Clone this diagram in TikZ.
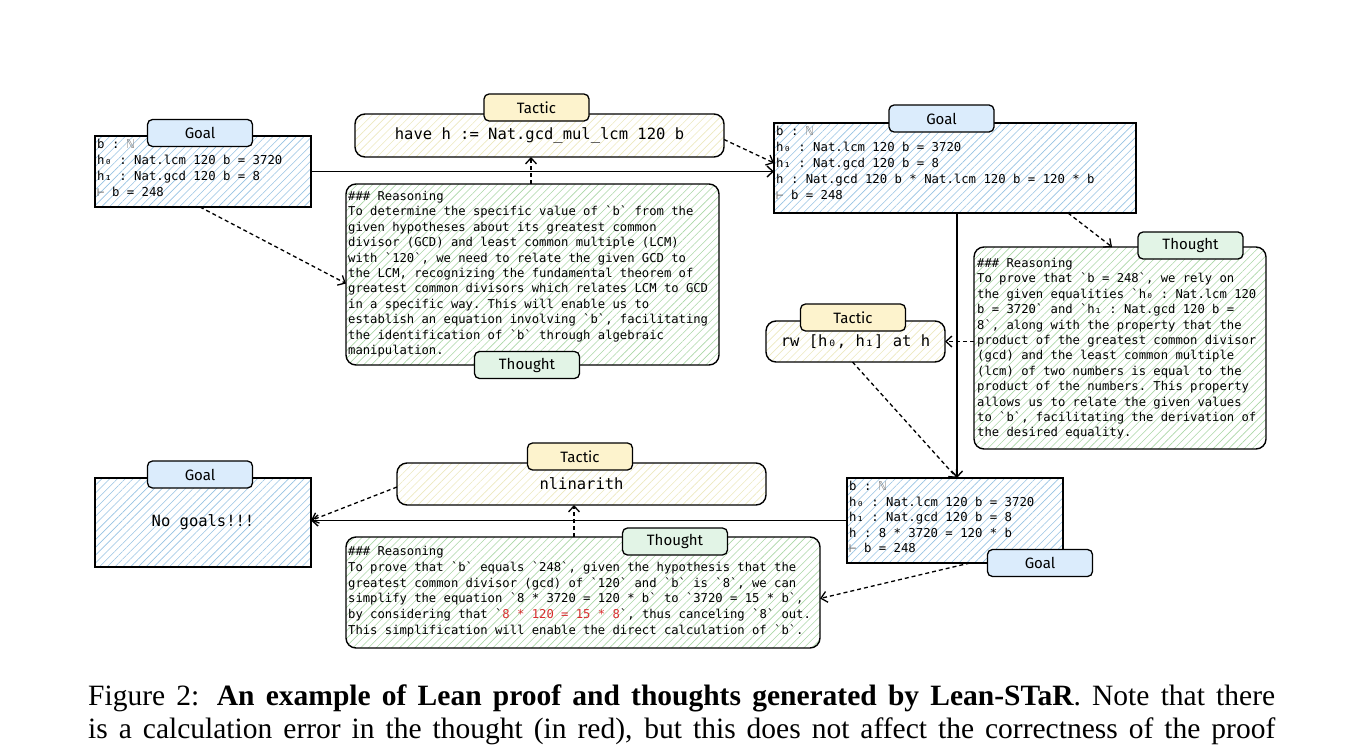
\documentclass[tikz,border=0pt]{standalone}
\usepackage{fontspec}
\setmonofont{DejaVu Sans Mono}
\newfontfamily\labelfont{Fira Sans}
\newfontfamily\capfont{Liberation Serif}
\usetikzlibrary{patterns.meta,arrows.meta}
\definecolor{hblue}{RGB}{150,194,226}
\definecolor{hgreen}{RGB}{170,214,166}
\definecolor{hyellow}{RGB}{236,232,190}
\definecolor{goalfill}{RGB}{219,236,252}
\definecolor{tacfill}{RGB}{253,243,205}
\definecolor{thfill}{RGB}{226,244,230}
\definecolor{errred}{RGB}{215,45,45}
\definecolor{symgray}{RGB}{120,120,120}
\begin{document}
\begin{tikzpicture}[x=1pt,y=-1pt,
  box/.style={draw=black, line width=1.4pt, inner sep=0pt, outer sep=0pt, anchor=north west},
  goalbox/.style={box, pattern={Lines[angle=45,distance=5.5pt,line width=0.6pt]}, pattern color=hblue},
  thbox/.style={box, rounded corners=10pt, pattern={Lines[angle=45,distance=5.5pt,line width=0.6pt]}, pattern color=hgreen},
  tacbox/.style={box, rounded corners=10pt, pattern={Lines[angle=45,distance=5.5pt,line width=0.6pt]}, pattern color=hyellow},
  lab/.style={draw=black, line width=1.3pt, rounded corners=5pt, inner sep=0pt, outer sep=0pt, minimum height=27pt, font=\labelfont\fontsize{15}{15}\selectfont},
  goallab/.style={lab, fill=goalfill, minimum width=105pt},
  taclab/.style={lab, fill=tacfill, minimum width=105pt},
  thlab/.style={lab, fill=thfill, minimum width=105pt},
  goaltext/.style={font=\ttfamily\fontsize{12.3}{16}\selectfont, align=left, inner sep=0pt, anchor=north west},
  thtext/.style={font=\ttfamily\fontsize{12.2}{15.4}\selectfont, align=left, inner sep=0pt, anchor=north west},
  tactext/.style={font=\ttfamily\fontsize{15.5}{18}\selectfont, inner sep=0pt},
  captext/.style={anchor=base west, inner sep=0pt, font=\capfont\fontsize{29.5}{33}\selectfont},
  solidarrow/.style={draw=black, line width=1.5pt, -{Straight Barb[length=6pt,width=11pt,line width=1.4pt]}},
  dasharrow/.style={draw=black, line width=1.3pt, dash pattern=on 4pt off 3pt, -{Straight Barb[length=6pt,width=11pt,line width=1.3pt]}}
]
\useasboundingbox (0,0) rectangle (1362,744);

% main boxes
\node[goalbox, minimum width=216pt, minimum height=71pt] (g1) at (95,136) {};
\node[tacbox, minimum width=369pt, minimum height=43pt] (t1) at (355,114) {};
\node[thbox, minimum width=373pt, minimum height=181pt] (r1) at (346,184) {};
\node[goalbox, minimum width=362pt, minimum height=90pt] (g2) at (774,123) {};
\node[thbox, minimum width=292pt, minimum height=202pt] (r2) at (974,247) {};
\node[tacbox, minimum width=179pt, minimum height=41pt] (t2) at (766,321) {};
\node[goalbox, minimum width=216pt, minimum height=85pt] (g3) at (847,478) {};
\node[tacbox, minimum width=369pt, minimum height=42pt] (t3) at (397,463) {};
\node[goalbox, minimum width=216pt, minimum height=89pt] (g4) at (95,478) {};
\node[thbox, minimum width=474pt, minimum height=111pt] (r3) at (346,537) {};

% texts
\node[goaltext] (g1t) at (97,139) {b : \textcolor{symgray}{ℕ}\\h₀ : Nat.lcm 120 b = 3720\\h₁ : Nat.gcd 120 b = 8\\\textcolor{symgray}{⊢} b = 248};
\node[tactext] (t1t) at (t1.center) {have h := Nat.gcd\_mul\_lcm 120 b};
\node[thtext] (r1t) at (348,191) {\#\#\# Reasoning\\
To determine the specific value of `b` from the\\
given hypotheses about its greatest common\\
divisor (GCD) and least common multiple (LCM)\\
with `120`, we need to relate the given GCD to\\
the LCM, recognizing the fundamental theorem of\\
greatest common divisors which relates LCM to GCD\\
in a specific way. This will enable us to\\
establish an equation involving `b`, facilitating\\
the identification of `b` through algebraic\\
manipulation.};
\node[goaltext] (g2t) at (776,126) {b : \textcolor{symgray}{ℕ}\\h₀ : Nat.lcm 120 b = 3720\\h₁ : Nat.gcd 120 b = 8\\h : Nat.gcd 120 b * Nat.lcm 120 b = 120 * b\\\textcolor{symgray}{⊢} b = 248};
\node[thtext] (r2t) at (977,258) {\#\#\# Reasoning\\
To prove that `b = 248`, we rely on\\
the given equalities `h₀ : Nat.lcm 120\\
b = 3720` and `h₁ : Nat.gcd 120 b =\\
8`, along with the property that the\\
product of the greatest common divisor\\
(gcd) and the least common multiple\\
(lcm) of two numbers is equal to the\\
product of the numbers. This property\\
allows us to relate the given values\\
to `b`, facilitating the derivation of\\
the desired equality.};
\node[tactext] (t2t) at (t2.center) {rw [h₀, h₁] at h};
\node[goaltext, font=\ttfamily\fontsize{12.3}{15.5}\selectfont] (g3t) at (849,481) {b : \textcolor{symgray}{ℕ}\\h₀ : Nat.lcm 120 b = 3720\\h₁ : Nat.gcd 120 b = 8\\h : 8 * 3720 = 120 * b\\\textcolor{symgray}{⊢} b = 248};
\node[tactext] (t3t) at (t3.center) {nlinarith};
\node[tactext] (g4t) at (g4.center) {No goals!!!};
\node[thtext, font=\ttfamily\fontsize{12.2}{15.8}\selectfont] (r3t) at (348,546) {\#\#\# Reasoning\\
To prove that `b` equals `248`, given the hypothesis that the\\
greatest common divisor (gcd) of `120` and `b` is `8`, we can\\
simplify the equation `8 * 3720 = 120 * b` to `3720 = 15 * b`,\\
by considering that `\textcolor{errred}{8 * 120 = 15 * 8}`, thus canceling `8` out.\\
This simplification will enable the direct calculation of `b`.};

% connectors
\draw[solidarrow] (g1.east) -- (g1.east -| g2.west);
\draw[dasharrow] ([xshift=-3pt]g1.south) -- ([yshift=-9pt]r1.west);
\draw[dasharrow] ([xshift=-1.5pt]r1.north) -- ([xshift=-1.5pt]r1.north |- t1.south);
\draw[dasharrow] ([yshift=-4pt]t1.east) -- ([yshift=5pt]g2.west);
\draw[solidarrow] ([xshift=2pt]g2.south) -- ([xshift=2pt]g2.south |- g3.north);
\draw[dasharrow] ([xshift=-68pt]g2.south east) -- ([xshift=-8pt]r2.north);
\draw[dasharrow] (r2.west |- t2.east) -- (t2.east);
\draw[dasharrow] ([xshift=-3pt]t2.south) -- ([xshift=2pt]g3.north);
\draw[solidarrow] (g3.west) -- (g3.west -| g4.east);
\draw[dasharrow] ([xshift=15pt]g3.south) -- ([yshift=-6pt]r3.east);
\draw[dasharrow] ([xshift=228pt]r3.north west) -- ([xshift=228pt]r3.north west |- t3.south);
\draw[dasharrow] ([yshift=-3pt]t3.west) -- ([yshift=2pt]g4.east);

% labels
\node[goallab] (l1) at (200,133) {Goal};
\node[taclab] (l2) at (536.5,107.5) {Tactic};
\node[thlab] (l3) at (527,365) {Thought};
\node[goallab] (l4) at (941.5,118.5) {Goal};
\node[thlab] (l5) at (1190.5,245.5) {Thought};
\node[taclab] (l6) at (853,317.5) {Tactic};
\node[goallab] (l7) at (1040,563) {Goal};
\node[taclab] (l8) at (580,456.5) {Tactic};
\node[goallab] (l9) at (200,474.5) {Goal};
\node[thlab] (l10) at (675,541.5) {Thought};

% caption
\node[captext] (cap1) at (88,705) {\hbox to 1187pt{Figure 2: \textbf{An example of Lean proof and thoughts generated by Lean-STaR}. Note that there}};
\node[captext] (cap2) at (88,738) {\hbox to 1187pt{is a calculation error in the thought (in red), but this does not affect the correctness of the proof}};
\end{tikzpicture}
\end{document}
